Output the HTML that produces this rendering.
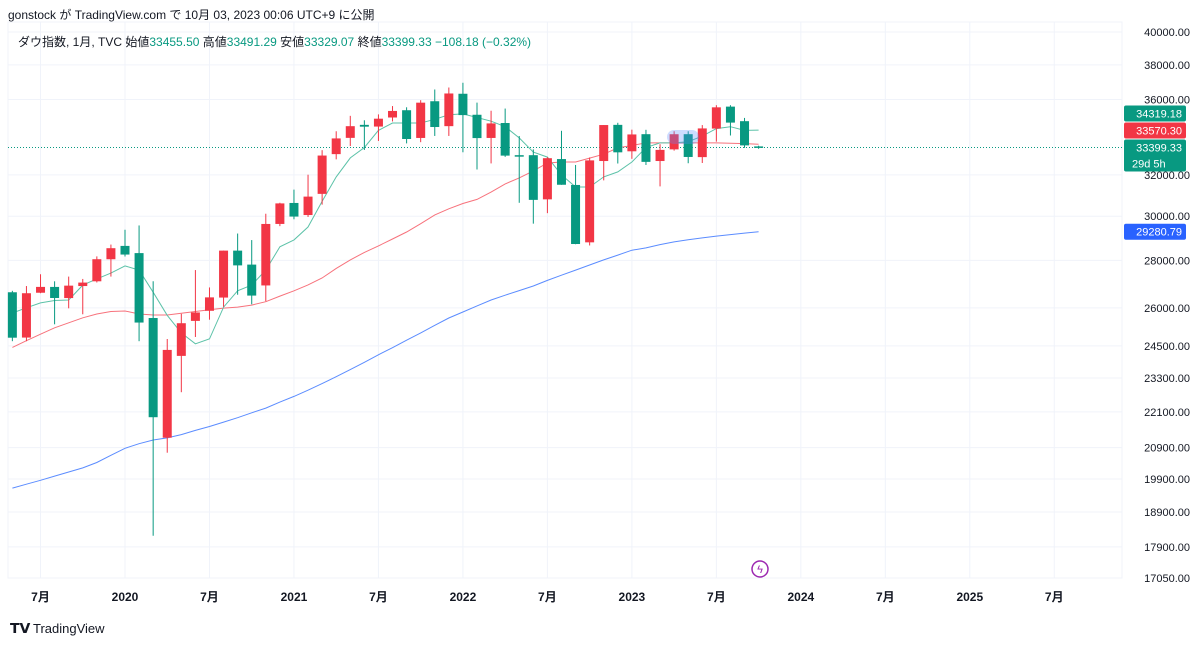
<!DOCTYPE html>
<html><head><meta charset="utf-8"><style>
body{margin:0;width:1200px;height:645px;background:#fff;font-family:"Liberation Sans","Noto Sans CJK JP",sans-serif;overflow:hidden}
svg{position:absolute;left:0;top:0}
</style></head><body>
<svg id="c" width="1200" height="645">
<text x="8" y="19" font-size="12" fill="#131722">gonstock が TradingView.com で 10月 03, 2023 00:06 UTC+9 に公開</text>
<rect x="8" y="22" width="1114" height="556" fill="none" stroke="#f0f3fa"/>
<g id="grid"></g>
<g id="mas"></g>
<g id="candles"></g>
<text x="18" y="46" font-size="12"><tspan fill="#131722">ダウ指数, 1月, TVC  始値</tspan><tspan fill="#089981">33455.50</tspan><tspan fill="#131722">  高値</tspan><tspan fill="#089981">33491.29</tspan><tspan fill="#131722">  安値</tspan><tspan fill="#089981">33329.07</tspan><tspan fill="#131722">  終値</tspan><tspan fill="#089981">33399.33  −108.18 (−0.32%)</tspan></text>
<rect x="667" y="130" width="32" height="14" rx="7" fill="#5b8cff" opacity="0.3"/>
<g><circle cx="760" cy="569" r="8" fill="#fff" stroke="#9c27b0" stroke-width="1.5"/><text x="760" y="573" font-size="11" fill="#9c27b0" text-anchor="middle">ϟ</text></g>
<g id="yaxis"></g>
<g id="xaxis"></g>
<g><text x="10" y="633" font-size="14" font-weight="bold" fill="#131722">𝗧𝗩</text><text x="33" y="633" font-size="13" fill="#131722">TradingView</text></g>
</svg>
<script>
const NS="http://www.w3.org/2000/svg";
const months=[];for(let i=-8;i<=45;i++)months.push(i);
const opens=[26640,24820,26620,26863,26400,26900,27100,28050,28640,28320,25590,21227,24120,25475,25880,26420,28430,27816,26925,29640,30627,30055,31065,33054,33904,34600,34508,35000,35400,33900,35900,34530,36322,35150,33900,34700,33000,33000,30800,32800,31500,28800,32700,34600,33200,34100,32700,33300,34100,32900,34400,35600,34800,33455.5];
const highs=[26700,26900,27400,27100,27300,27200,28175,28700,29374,29570,27100,24765,25760,27580,26841,28430,29199,28902,30116,30637,31272,32009,33259,34256,35091,34849,35171,35631,35563,35960,36565,36679,36952,35824,35372,35492,34000,33300,32900,34281,32500,32883,34590,34712,34342,34334,33572,34257,34257,34588,35679,35679,34977,33491.29];
const lows=[24680,24680,26600,25340,25980,25740,27050,27300,28170,24680,18214,20735,22790,24843,25523,26040,26537,26143,26269,29538,29856,29965,30547,32786,33473,33271,33741,34785,33613,33676,34006,34006,33150,32272,32578,32913,30635,29653,30143,31509,28715,28660,31727,32573,32812,32500,31430,33235,32587,32600,33705,34029,33380,33329.07];
const closes=[24815,26600,26864,26403,26917,27046,28051,28538,28256,25409,21917,24346,25383,25813,26428,28430,27782,26502,29639,30606,29983,30932,32981,33875,34529,34502,34935,35360,33844,35820,34484,36338,35132,33893,34678,32977,32990,30775,32845,31510,28725,32733,34590,33147,34086,32657,33274,34098,32908,34408,35560,34722,33508,33399.33];
const maShort=[25790,26000,26200,26300,26320,26940,27200,27450,27760,27580,26640,25700,25000,24580,24770,26030,26700,26940,27580,28600,28910,29500,30700,31900,32860,33400,34300,34700,34700,34700,34900,35150,35200,35000,34800,34500,33900,33160,32900,32000,31400,31400,31900,32150,32650,33400,33640,33640,33700,34000,34400,34500,34300,34319.18];
const maMid=[24440,24700,24950,25200,25400,25600,25750,25850,25870,25750,25710,25710,25780,25850,25920,25990,26030,26110,26250,26480,26700,26950,27240,27650,28020,28350,28640,28950,29270,29650,30060,30350,30600,30800,31150,31550,31850,32200,32600,32650,32650,32850,33050,33375,33500,33640,33640,33640,33640,33640,33640,33620,33600,33570.30];
const maLong=[19620,19740,19860,19990,20120,20250,20420,20650,20880,21030,21150,21220,21330,21470,21600,21750,21900,22070,22230,22440,22640,22860,23100,23350,23610,23880,24160,24430,24720,25000,25300,25590,25830,26080,26320,26520,26710,26900,27140,27360,27580,27800,28020,28230,28450,28550,28700,28820,28920,29000,29080,29150,29220,29280.79];
const yTicks=[40000,38000,36000,32000,30000,28000,26000,24500,23300,22100,20900,19900,18900,17900,17050];
const xTickLabels=["7月","2020","7月","2021","7月","2022","7月","2023","7月","2024","7月","2025","7月"];
const xTickMonths=[-6,0,6,12,18,24,30,36,42,48,54,60,66];
function y(p){return 32+(Math.log(40000)-Math.log(p))*640.3;}
function x(i){return 125+i*14.08;}
function mk(tag,attrs,parent){const e=document.createElementNS(NS,tag);for(const k in attrs)e.setAttribute(k,attrs[k]);parent.appendChild(e);return e;}
const grid=document.getElementById('grid'),ya=document.getElementById('yaxis'),xa=document.getElementById('xaxis');
yTicks.forEach(t=>{
 const l=mk('line',{x1:8,x2:1122,y1:y(t),y2:y(t),stroke:'#f0f3fa'},grid);
 
 
 const tx=mk('text',{x:1190,y:y(t)+4,'font-size':11,fill:'#131722','text-anchor':'end'},ya);
 tx.textContent=t.toFixed(2);
 
 
});
xTickMonths.forEach((m,k)=>{
 const l=mk('line',{x1:x(m),x2:x(m),y1:22,y2:578,stroke:'#f0f3fa'},grid);
 
 
 const lab=xTickLabels[k];
 const tx=mk('text',{x:x(m),y:601,'font-size':12,fill:'#131722','text-anchor':'middle','font-weight':/^\d/.test(lab)?'bold':'normal'},xa);
 tx.textContent=lab;
 
 
});
const mas=document.getElementById('mas');
[[maLong,'#5b8cff','ma-long'],[maMid,'#f7727c','ma-mid'],[maShort,'#5cc2a8','ma-short']].forEach(([arr,c,n])=>{
 const p=mk('polyline',{points:arr.map((v,k)=>x(months[k]).toFixed(1)+','+y(v).toFixed(1)).join(' '),fill:'none',stroke:c,'stroke-width':1},mas);
 
 
});
const cl=mk('line',{x1:8,x2:1122,y1:y(closes[closes.length-1]),y2:y(closes[closes.length-1]),stroke:'#089981','stroke-dasharray':'1,2'},grid);


const cg=document.getElementById('candles');
months.forEach((m,k)=>{
 const up=closes[k]>=opens[k];const col=up?'#f23645':'#089981';
 const g=mk('g',{},cg);
 
 
 mk('line',{x1:x(m),x2:x(m),y1:y(highs[k]),y2:y(lows[k]),stroke:col,'stroke-width':1},g);
 const t=y(Math.max(opens[k],closes[k])),b=y(Math.min(opens[k],closes[k]));
 mk('rect',{x:x(m)-4.5,y:t,width:9,height:Math.max(1.5,b-t),fill:col},g);
});
// badges, stacked to avoid overlap like TradingView
function badge(v,yy,c,n,extra){
 const g=mk('g',{},ya);
 
 
 mk('rect',{x:1124,y:yy-8,width:62,height:extra?32:16,fill:c,rx:2},g);
 const t=mk('text',{x:1182,y:yy+4,'font-size':11,fill:'#fff','text-anchor':'end'},g);t.textContent=v.toFixed(2);
 if(extra){const t2=mk('text',{x:1132,y:yy+20,'font-size':11,fill:'#fff'},g);t2.textContent=extra;}
}
const lastY=y(closes[closes.length-1]);
badge(maShort[maShort.length-1],lastY-34,'#089981','ma-short-badge');
badge(maMid[maMid.length-1],lastY-17,'#f23645','ma-mid-badge');
badge(closes[closes.length-1],lastY,'#089981','last-price-badge','29d 5h');
badge(maLong[maLong.length-1],y(maLong[maLong.length-1]),'#2962ff','ma-long-badge');
</script>
</body></html>
